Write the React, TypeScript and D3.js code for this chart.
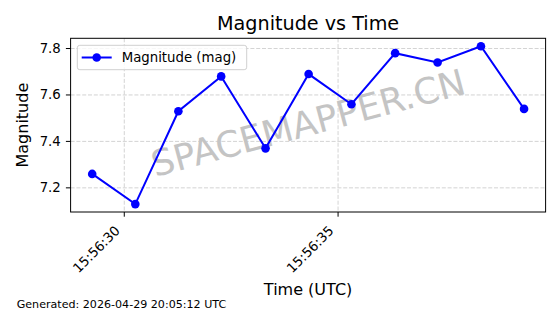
import React from "react";
import * as d3 from "d3";

const times = [
  "2026-04-29T15:56:29.250Z",
  "2026-04-29T15:56:30.258Z",
  "2026-04-29T15:56:31.265Z",
  "2026-04-29T15:56:32.266Z",
  "2026-04-29T15:56:33.304Z",
  "2026-04-29T15:56:34.311Z",
  "2026-04-29T15:56:35.312Z",
  "2026-04-29T15:56:36.335Z",
  "2026-04-29T15:56:37.327Z",
  "2026-04-29T15:56:38.341Z",
  "2026-04-29T15:56:39.349Z",
];
const magnitudes = [7.26, 7.13, 7.53, 7.68, 7.37, 7.69, 7.56, 7.78, 7.74, 7.81, 7.54];
const yTicks = [7.2, 7.4, 7.6, 7.8];
const titleText = "Magnitude vs Time";
const xLabel = "Time (UTC)";
const yLabel = "Magnitude";
const legendLabel = "Magnitude (mag)";
const watermark = "SPACEMAPPER.CN";
const footer = "Generated: 2026-04-29 20:05:12 UTC";

const W = 560;
const H = 314;
const L = 70.6;
const R = 545.6;
const T = 38.3;
const B = 212;
const FONT = "'DejaVu Sans', sans-serif";

export default function App() {
  const dates = times.map((t) => new Date(t));
  const tMin = d3.min(dates)!.getTime();
  const tMax = d3.max(dates)!.getTime();
  const tPad = (tMax - tMin) * 0.05;
  const x = d3
    .scaleUtc()
    .domain([new Date(tMin - tPad), new Date(tMax + tPad)])
    .range([L, R]);
  const yMin = d3.min(magnitudes)!;
  const yMax = d3.max(magnitudes)!;
  const yPad = (yMax - yMin) * 0.05;
  const y = d3.scaleLinear().domain([yMin - yPad, yMax + yPad]).range([B, T]);

  const xTicks = x.ticks(d3.utcSecond.every(5)!);
  const fmt = d3.utcFormat("%H:%M:%S");
  const pts = dates.map((d, i) => [x(d), y(magnitudes[i])] as [number, number]);
  const line = d3.line()(pts)!;
  const cx = (L + R) / 2;
  const cy = (T + B) / 2;

  return (
    <svg
      width={W}
      height={H}
      style={{ position: "absolute", left: 0, top: 0, background: "#fff" }}
      fontFamily={FONT}
    >
      <rect x={0} y={0} width={W} height={H} fill="#fff" />
      <text x={cx} y={30} textAnchor="middle" fontSize={19.2} fill="#000">
        {titleText}
      </text>
      {/* grid */}
      {yTicks.map((v) => (
        <line
          key={"gy" + v}
          x1={L}
          x2={R}
          y1={y(v)}
          y2={y(v)}
          stroke="#c8c8c8"
          strokeWidth={0.8}
          strokeDasharray="4,1.8"
        />
      ))}
      {xTicks.map((d, i) => (
        <line
          key={"gx" + i}
          x1={x(d)}
          x2={x(d)}
          y1={T}
          y2={B}
          stroke="#c8c8c8"
          strokeWidth={0.8}
          strokeDasharray="4,1.8"
        />
      ))}
      {/* watermark */}
      <text
        x={cx}
        y={cy - 2}
        textAnchor="middle"
        dominantBaseline="central"
        fontSize={36}
        fill="#c4c4c4"
        transform={`rotate(-15, ${cx}, ${cy - 2})`}
      >
        {watermark}
      </text>
      {/* data */}
      <path d={line} fill="none" stroke="#0000ff" strokeWidth={2} />
      {pts.map(([px, py], i) => (
        <circle key={"p" + i} cx={px} cy={py} r={4.3} fill="#0000ff" />
      ))}
      {/* frame */}
      <rect x={L} y={T} width={R - L} height={B - T} fill="none" stroke="#000" strokeWidth={1} />
      {/* y ticks */}
      {yTicks.map((v) => (
        <g key={"yt" + v}>
          <line x1={L - 4.7} x2={L} y1={y(v)} y2={y(v)} stroke="#000" strokeWidth={1} />
          <text
            x={L - 9.8}
            y={y(v)}
            textAnchor="end"
            dominantBaseline="central"
            fontSize={13.3}
            fill="#000"
          >
            {d3.format(".1f")(v)}
          </text>
        </g>
      ))}
      {/* x ticks */}
      {xTicks.map((d, i) => {
        const px = x(d);
        const ax = px - 3.5;
        const ay = B + 19.5;
        return (
          <g key={"xt" + i}>
            <line x1={px} x2={px} y1={B} y2={B + 4.7} stroke="#000" strokeWidth={1} />
            <text
              x={ax}
              y={ay}
              textAnchor="end"
              fontSize={13.3}
              fill="#000"
              transform={`rotate(-45, ${ax}, ${ay})`}
            >
              {fmt(d)}
            </text>
          </g>
        );
      })}
      {/* axis labels */}
      <text x={cx} y={295} textAnchor="middle" fontSize={16} fill="#000">
        {xLabel}
      </text>
      <text
        x={0}
        y={0}
        textAnchor="middle"
        fontSize={16}
        fill="#000"
        transform={`translate(28.4, ${cy}) rotate(-90)`}
      >
        {yLabel}
      </text>
      {/* legend */}
      <rect
        x={77.3}
        y={45.3}
        width={169.4}
        height={24.4}
        rx={2.5}
        fill="#fff"
        fillOpacity={0.8}
        stroke="#d0d0d0"
        strokeWidth={1}
      />
      <line x1={81.7} x2={111.7} y1={57.5} y2={57.5} stroke="#0000ff" strokeWidth={2} />
      <circle cx={96.7} cy={57.5} r={4.3} fill="#0000ff" />
      <text x={121.7} y={57.5} dominantBaseline="central" fontSize={13.3} fill="#000">
        {legendLabel}
      </text>
      {/* footer */}
      <text x={16.7} y={308} fontSize={11.1} fill="#000">
        {footer}
      </text>
    </svg>
  );
}
